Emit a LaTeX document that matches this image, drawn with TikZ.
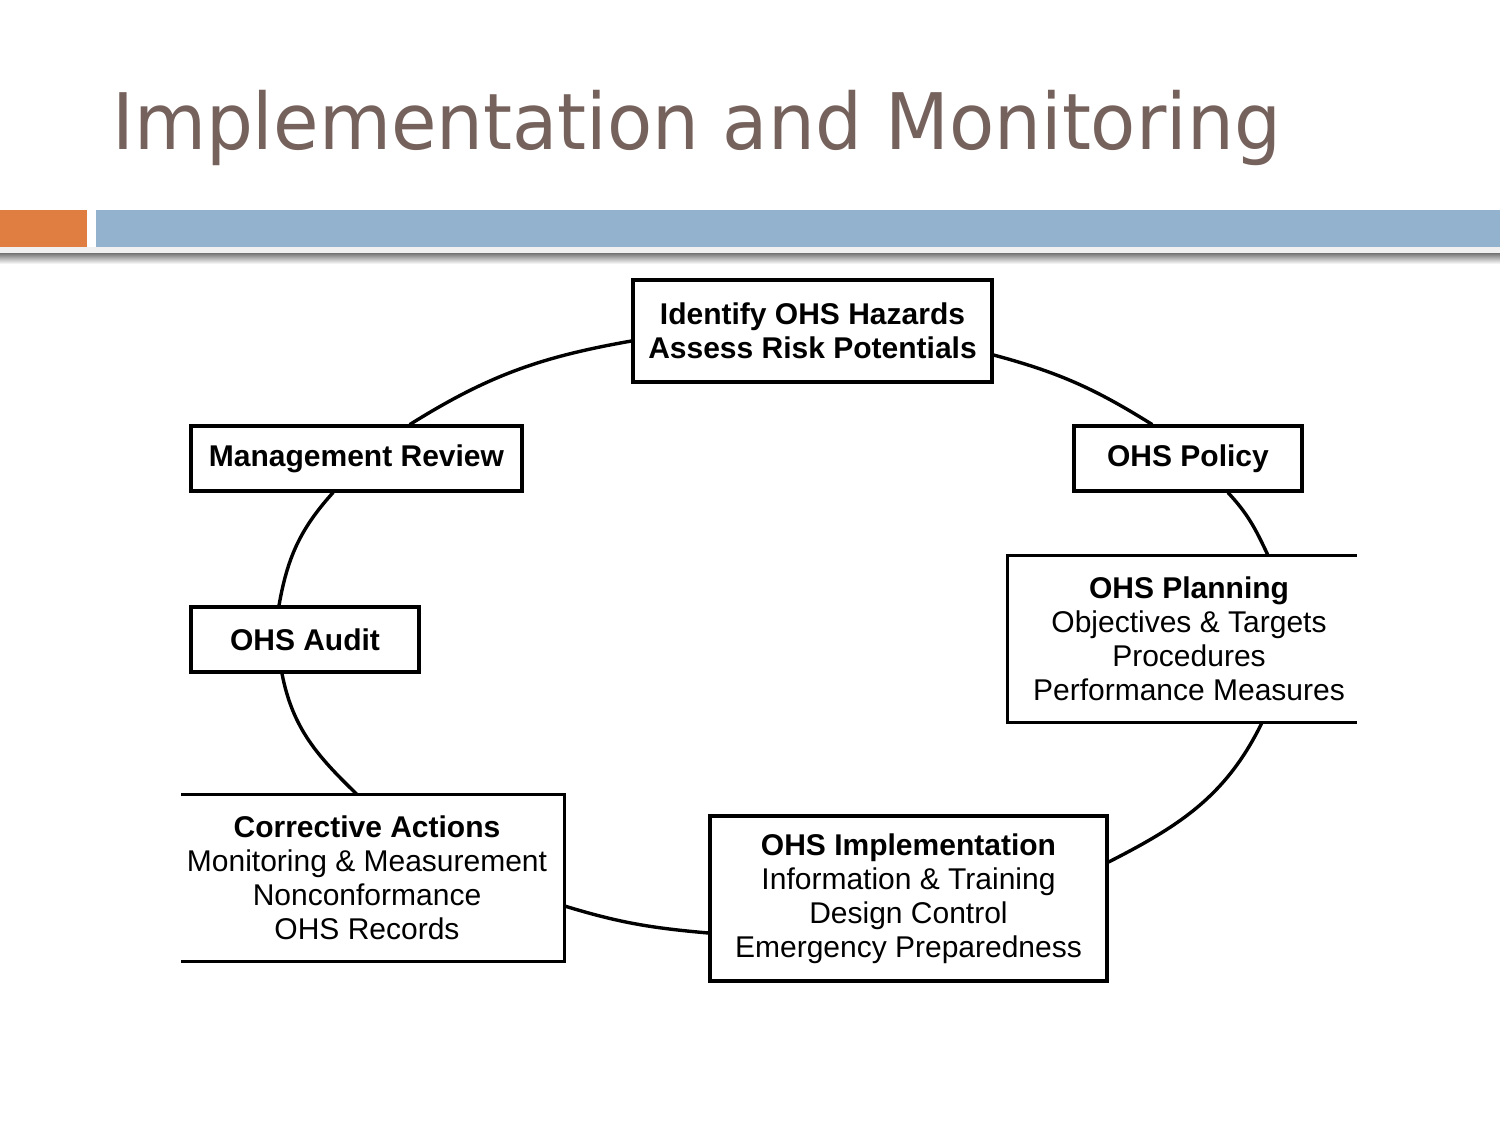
\documentclass[tikz,border=0pt]{standalone}
\usepackage{fontspec}
\setmainfont{Liberation Sans}
\newfontfamily\titlefont{DejaVu Sans}
\usetikzlibrary{calc}
\definecolor{titlec}{RGB}{118,98,92}
\definecolor{barorange}{RGB}{224,125,64}
\definecolor{barblue}{RGB}{146,178,205}
\begin{document}
\begin{tikzpicture}[x=1pt,y=1pt,
  box/.style={draw=black, line width=3.2pt, fill=white, inner sep=0pt, align=center,
    font=\fontsize{30}{34}\selectfont},
  edge3/.style={line width=3.2pt},
  link/.style={line width=3.4pt, line cap=round}]
\useasboundingbox (0,0) rectangle (1500,-1125);
\fill[white] (0,0) rectangle (1500,-1125);
% header bars
\fill[black!6] (0,-247) rectangle (1500,-253);
\shade[top color=black!55, bottom color=white] (0,-253) rectangle (1500,-264);
\fill[barorange] (0,-210) rectangle (87,-247);
\fill[barblue] (96,-210) rectangle (1500,-247);
% title
\node[anchor=base west, inner sep=0pt, text=titlec,
  font=\titlefont\fontsize{78}{80}\selectfont] (title) at (112,-149)
  {\scalebox{0.948}[1]{Implementation and Monitoring}};
% boxes
\node[box, minimum width=359, minimum height=102] (haz) at (812.5,-331)
  {\textbf{Identify OHS Hazards}\\\textbf{Assess Risk Potentials}};
\node[box, minimum width=331, minimum height=65] (mr) at (356.5,-458.5)
  {\textbf{Management Review}};
\node[box, minimum width=228, minimum height=65] (pol) at (1188,-458.5)
  {\textbf{OHS Policy}};
\node[box, draw=none, minimum width=346, minimum height=164] (plan) at (1189,-639)
  {\textbf{OHS Planning}\\Objectives \& Targets\\Procedures\\Performance Measures};
\draw[edge3] ($(plan.north east)+(-7,0)$) -- ($(plan.north west)+(-7,0)$)
  -- ($(plan.south west)+(-7,0)$) -- ($(plan.south east)+(-7,0)$);
\node[box, minimum width=228, minimum height=65] (aud) at (305,-639.5)
  {\textbf{OHS Audit}};
\node[box, draw=none, minimum width=380, minimum height=164] (ca) at (367,-878)
  {\textbf{Corrective Actions}\\Monitoring \& Measurement\\Nonconformance\\OHS Records};
\draw[edge3] ($(ca.north west)+(6,0)$) -- ($(ca.north east)+(6,0)$)
  -- ($(ca.south east)+(6,0)$) -- ($(ca.south west)+(6,0)$);
\node[box, minimum width=397, minimum height=165] (imp) at (908.5,-898.5)
  {\textbf{OHS Implementation}\\Information \& Training\\Design Control\\Emergency Preparedness};
% connectors (cycle)
\draw[link] ($(haz.west)+(0,-10)$) to[out=190,in=32] ($(mr.north)+(53.5,0)$);
\draw[link] ($(mr.south)+(-23.5,0)$) to[out=228,in=80] ($(aud.north)+(-26,0)$);
\draw[link] ($(aud.south)+(-23,0)$) to[out=281,in=136] ($(ca.north)+(-10,0)$);
\draw[link] ($(ca.east)+(6,-28)$) to[out=-17,in=175] ($(imp.west)+(0,-34.5)$);
\draw[link] ($(imp.east)+(0,36.5)$) to[out=27,in=244] ($(plan.south)+(73,0)$);
\draw[link] ($(plan.north)+(79,0)$) to[out=115,in=-47] ($(pol.south)+(40,0)$);
\draw[link] ($(pol.north)+(-36,0)$) to[out=148,in=-15] ($(haz.east)+(0,-24)$);
\end{tikzpicture}
\end{document}
